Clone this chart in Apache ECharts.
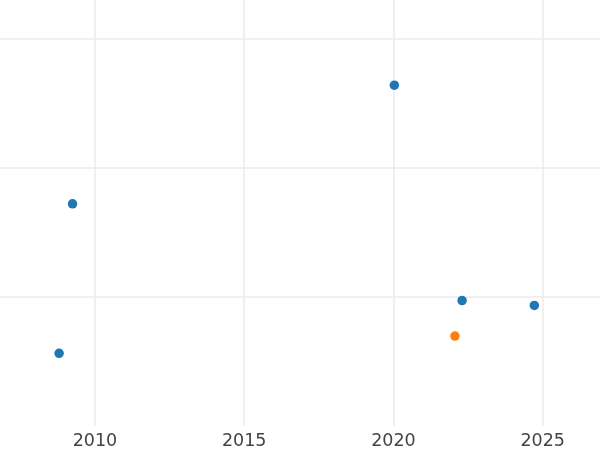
<!DOCTYPE html>
<html>
<head>
<meta charset="utf-8">
<script src="https://cdn.jsdelivr.net/npm/echarts@6/dist/echarts.min.js"></script>
<style>html,body{margin:0;padding:0;background:#fff}#c{width:600px;height:450px}</style>
</head>
<body>
<div id="c"></div>
<script>
const xTicks = [2010, 2015, 2020, 2025];
const blueX = [2008.80, 2009.25, 2020.03, 2022.30, 2024.72];
const blueY = [0.563, 1.721, 2.640, 0.972, 0.934];
const orangeX = [2022.06];
const orangeY = [0.697];

const chart = echarts.init(document.getElementById('c'), null, {renderer: 'canvas'});
const gridColor = '#ebebeb';
chart.setOption({
  animation: false,
  backgroundColor: '#ffffff',
  grid: {left: 0, right: 0, top: 0, bottom: 23, containLabel: false},
  xAxis: {
    type: 'value', min: 2006.82, max: 2026.92,
    axisLine: {show: false}, axisTick: {show: false},
    axisLabel: {showMinLabel: false, showMaxLabel: false, fontSize: 17.5, color: '#444444',
      fontFamily: 'DejaVu Sans', margin: 6,
      formatter: v => xTicks.includes(Math.round(v)) ? String(Math.round(v)) : ''},
    splitLine: {show: true, showMinLine: false, showMaxLine: false, lineStyle: {color: gridColor, width: 1.5}}
  },
  yAxis: {
    type: 'value', min: 0, max: 3.3, interval: 1,
    axisLine: {show: false}, axisTick: {show: false}, axisLabel: {show: false},
    splitLine: {show: true, showMinLine: false, showMaxLine: false, lineStyle: {color: gridColor, width: 1.5}}
  },
  series: [
    {type: 'scatter', symbolSize: 9.5, itemStyle: {color: '#1f77b4', opacity: 1},
      data: blueX.map((x, i) => [x, blueY[i]])},
    {type: 'scatter', symbolSize: 9.5, itemStyle: {color: '#ff7f0e', opacity: 1},
      data: orangeX.map((x, i) => [x, orangeY[i]])}
  ]
});
</script>
</body>
</html>
